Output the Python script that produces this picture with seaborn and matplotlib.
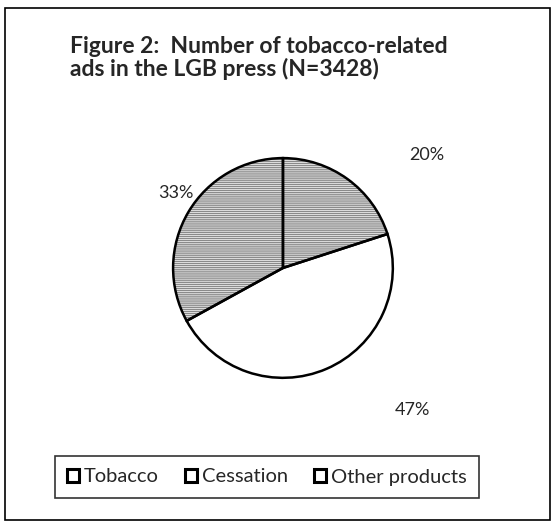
import matplotlib
matplotlib.use("Agg")
import matplotlib.pyplot as plt
import seaborn as sns
from matplotlib.patches import Rectangle, Patch

sns.set_style("white")
plt.rcParams['font.family'] = ['Lato', 'DejaVu Sans']

# data
categories = ["Tobacco", "Cessation", "Other products"]
shares = [20, 47, 33]
face_colors = ["white", "white", "white"]
hatches = ["--------", "", "--------"]

fig = plt.figure(figsize=(5.59, 5.29), dpi=100)

# outer frame of the figure box
fig.patches.append(Rectangle((5/559, 9/529), 545/559, 512/529, transform=fig.transFigure,
                             fill=False, edgecolor="black", linewidth=1.2))

fig.text(70/559, 1 - 58/529, "Figure 2:  Number of tobacco-related\nads in the LGB press (N=3428)",
         fontsize=16.5, fontweight="bold", ha="left", va="center", linespacing=1.05)

ax = fig.add_axes([0.3077, 0.2836, 0.397, 0.4197])

# hatched fill first (gray lines), then black outlines on top
plt.rcParams['hatch.linewidth'] = 1.0
wedges, _ = ax.pie(shares, startangle=90, counterclock=False,
                   colors=face_colors, wedgeprops=dict(linewidth=0, edgecolor="#8a8a8a"))
for w, h in zip(wedges, hatches):
    w.set_hatch(h)
ax.pie(shares, startangle=90, counterclock=False,
       colors=["none"] * 3, wedgeprops=dict(linewidth=1.8, edgecolor="black"))
ax.set_xlim(-1.01, 1.01)
ax.set_ylim(-1.01, 1.01)
ax.set_aspect("equal")

# percentage labels
label_pos = [(427, 155), (412, 410), (176, 193)]
for pct, (x, y) in zip(shares, label_pos):
    fig.text(x/559, 1 - y/529, f"{pct}%", fontsize=13, ha="center", va="center")

handles = [Patch(facecolor="white", edgecolor="black", linewidth=2.2, label=c) for c in categories]
leg = fig.legend(handles=handles, loc="center", bbox_to_anchor=(267/559, 1 - 477/529),
                 ncol=3, fontsize=14.5, frameon=True, fancybox=False, handlelength=0.6,
                 handleheight=0.6, handletextpad=0.25, columnspacing=1.3, borderpad=0.6,
                 borderaxespad=0)
leg.get_frame().set_edgecolor("black")
leg.get_frame().set_linewidth(1.2)

fig.savefig("out.png", dpi=100)
